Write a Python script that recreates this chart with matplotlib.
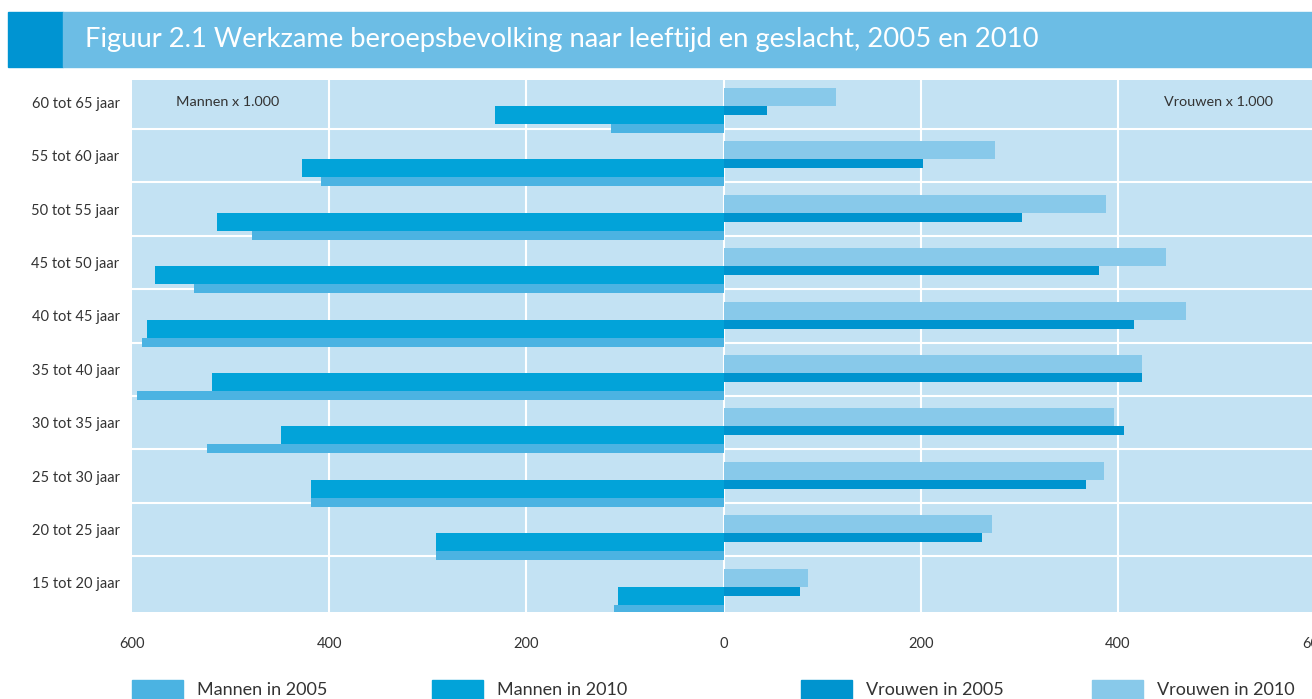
import matplotlib
matplotlib.use("Agg")
import matplotlib.pyplot as plt
import numpy as np
from matplotlib.patches import Rectangle

plt.rcParams['font.family'] = ['Lato', 'DejaVu Sans']

# data (x 1.000)
age_groups = ['15 tot 20 jaar', '20 tot 25 jaar', '25 tot 30 jaar', '30 tot 35 jaar',
              '35 tot 40 jaar', '40 tot 45 jaar', '45 tot 50 jaar', '50 tot 55 jaar',
              '55 tot 60 jaar', '60 tot 65 jaar']
men_2005 = [111, 292, 418, 524, 595, 590, 537, 478, 408, 114]
men_2010 = [107, 292, 418, 449, 519, 585, 577, 514, 428, 232]
women_2005 = [78, 262, 368, 406, 425, 416, 381, 303, 202, 44]
women_2010 = [86, 272, 386, 396, 425, 469, 449, 388, 275, 114]
x_ticks = [-600, -400, -200, 0, 200, 400, 600]

c_men05 = '#4bb3e2'
c_men10 = '#02a3d9'
c_wom05 = '#0094cf'
c_wom10 = '#88c9ea'
bg = '#c3e2f3'
text_c = '#333333'

fig = plt.figure(figsize=(13.12, 6.99), dpi=100)

# title banner
fig.patches.append(Rectangle((8 / 1312, 1 - 67 / 699), (63 - 8) / 1312, 55 / 699,
                             transform=fig.transFigure, color='#0094d2', zorder=0))
fig.patches.append(Rectangle((63 / 1312, 1 - 67 / 699), 1.0, 55 / 699,
                             transform=fig.transFigure, color='#6cbde5', zorder=0))
fig.text(85 / 1312, 1 - 40 / 699, 'Figuur 2.1 Werkzame beroepsbevolking naar leeftijd en geslacht, 2005 en 2010',
         color='white', fontsize=19.7, va='center', ha='left')

ax = fig.add_axes([132 / 1312, 87 / 699, 1183 / 1312, 532 / 699])
ax.set_facecolor(bg)
y = np.arange(len(age_groups))

ax.barh(y - 0.49, -np.array(men_2005), height=0.169, color=c_men05, zorder=2)
ax.barh(y - 0.2375, -np.array(men_2010), height=0.337, color=c_men10, zorder=3)
ax.barh(y + 0.0995, women_2010, height=0.337, color=c_wom10, zorder=2)
ax.barh(y - 0.1535, women_2005, height=0.169, color=c_wom05, zorder=3)

ax.set_xlim(-600, 600)
ax.set_ylim(-0.545, 9.418)
for v in [-400, -200, 0, 200, 400]:
    ax.axvline(v, color='white', lw=1.5, zorder=1)
for v in y[:-1] + 0.5:
    ax.axhline(v, color='white', lw=1.5, zorder=1)

ax.set_xticks(x_ticks)
ax.set_xticklabels([str(abs(v)) for v in x_ticks])
ax.set_yticks(y)
ax.set_yticklabels(age_groups)
ax.tick_params(length=0, labelsize=10.5, labelcolor=text_c)
ax.tick_params(axis='x', pad=18)
ax.tick_params(axis='y', pad=9)
for s in ax.spines.values():
    s.set_visible(False)

ax.text(-555, 9.0, 'Mannen x 1.000', fontsize=10.4, color=text_c, va='center', ha='left')
ax.text(557, 9.0, 'Vrouwen x 1.000', fontsize=10.4, color=text_c, va='center', ha='right')

# legend
legend_items = [('Mannen in 2005', c_men05, 132), ('Mannen in 2010', c_men10, 432),
                ('Vrouwen in 2005', c_wom05, 801), ('Vrouwen in 2010', c_wom10, 1092)]
for label, col, x0 in legend_items:
    fig.patches.append(Rectangle((x0 / 1312, 0), 51 / 1312, 19 / 699,
                                 transform=fig.transFigure, color=col))
    fig.text((x0 + 65) / 1312, 9 / 699, label, fontsize=13, color=text_c, va='center', ha='left')

fig.savefig('out.png', dpi=100)
